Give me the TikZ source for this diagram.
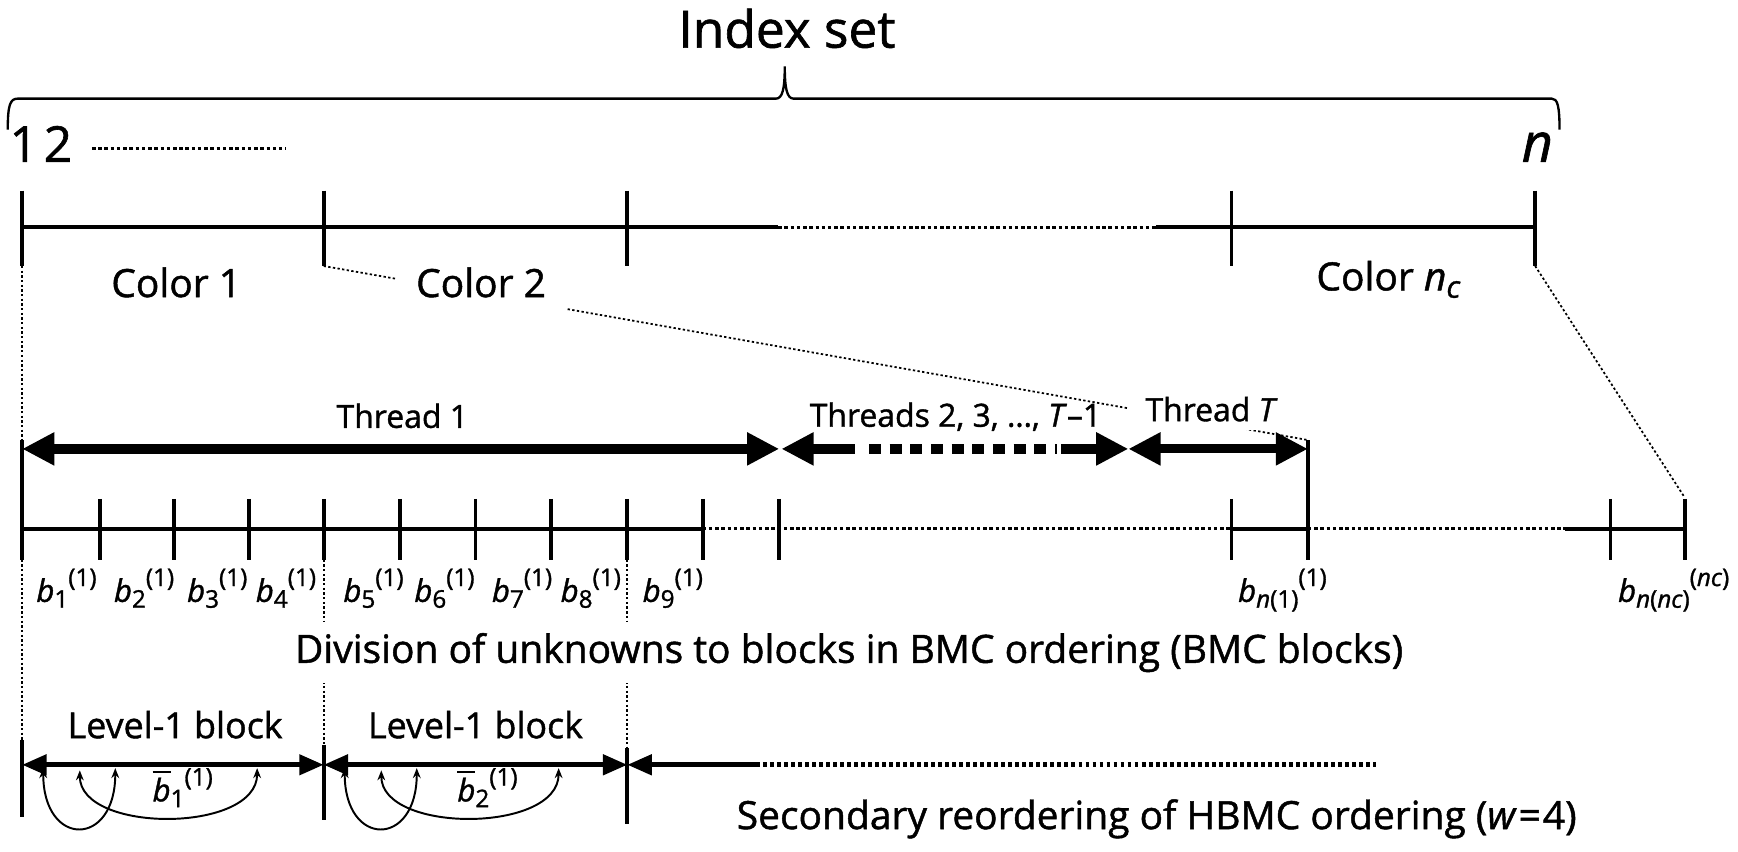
\documentclass[tikz,border=0pt]{standalone}
\usepackage{fontspec}
\usepackage{graphicx}
\setmainfont{Open Sans}[UprightFeatures={FakeBold=1.2},ItalicFeatures={FakeBold=1.2}]
\usetikzlibrary{arrows.meta}
\newcommand\lo[1]{\raisebox{-0.35ex}{\scalebox{0.78}{#1}}}
\newcommand\hi[1]{\raisebox{0.95ex}{\scalebox{0.78}{#1}}}
\newcommand\fs[1]{\fontsize{#1}{#1}\selectfont}
\begin{document}
\begin{tikzpicture}[x=0.1mm,y=-0.1mm,
  ax/.style={line width=1.0pt},
  axdot/.style={line width=0.8pt, dash pattern=on 0.9pt off 0.7pt},
  tk/.style={line width=1.0pt},
  fine/.style={line width=0.45pt, dash pattern=on 0.6pt off 0.6pt},
  thr/.style={line width=2.6pt},
  thrT/.style={line width=2.3pt},
  lv/.style={line width=1.2pt},
  lvdot/.style={line width=1.2pt, dash pattern=on 1pt off 0.8pt},
  arcl/.style={line width=0.5pt, {Stealth[length=0.9mm,width=0.7mm]}-{Stealth[length=0.9mm,width=0.7mm]}},
  bigboth/.style={{Triangle[length=2.9mm,width=2.8mm]}-{Triangle[length=2.9mm,width=2.8mm]}},
  bigleft/.style={{Triangle[length=2.9mm,width=2.8mm]}-},
  bigright/.style={-{Triangle[length=2.9mm,width=2.8mm]}},
  smboth/.style={{Triangle[length=2.2mm,width=1.8mm]}-{Triangle[length=2.2mm,width=1.8mm]}},
  smleft/.style={{Triangle[length=2.2mm,width=1.8mm]}-},
  lab/.style={inner sep=0pt, anchor=base},
  labw/.style={inner sep=0pt, anchor=base west},
  blab/.style={inner sep=0pt, anchor=base, font=\fs{8}},
  cover/.style={fill=white, inner xsep=1.8mm, inner ysep=1.1mm, anchor=base}
]
\useasboundingbox (0,0) rectangle (1568,768);

% ---------- brace and index set ----------
\draw[line width=0.6pt] (7,117) .. controls (7,95) and (9,89) .. (16,89) -- (700,89)
  .. controls (706,89) and (708,80) .. (708,60)
  .. controls (708,80) and (710,89) .. (716,89) -- (1400,89)
  .. controls (1405,89) and (1407,95) .. (1407,117);
\node[lab, font=\fs{13.2}] (idx) at (710,43) {Index set};
\node[labw, font=\fs{12.7}] (one) at (8,146) {1\hspace{0.12em}2};
\coordinate (d12a) at (83,134);
\coordinate (d12b) at (258,134);
\draw[axdot, line width=0.7pt] (d12a) -- (d12b);
\node[lab, font=\fs{13.8}] (nn) at (1387,146) {\textit{n}};

% ---------- colour axis ----------
\coordinate (c0) at (20,205);
\coordinate (c1) at (292,205);
\coordinate (c2) at (566,205);
\coordinate (cd1) at (702,205);
\coordinate (cd2) at (1043,205);
\coordinate (c3) at (1111,205);
\coordinate (c4) at (1385,205);
\draw[ax] (c0) -- (cd1);
\draw[axdot] (cd1) -- (cd2);
\draw[ax] (cd2) -- (c4);
\foreach \p in {c0,c1,c2,c3,c4} \draw[tk] (\p) ++(0,-33) -- ++(0,68);
\coordinate (c0b) at (20,240);
\coordinate (c1b) at (292,240);
\coordinate (c4b) at (1385,240);

% ---------- thread row coordinates ----------
\coordinate (thA) at (20,405);
\coordinate (thB) at (703,405);
\coordinate (thC) at (705,405);
\coordinate (thC2) at (771,405);
\coordinate (thDa) at (784,405);
\coordinate (thDb) at (954,405);
\coordinate (thDc) at (957,405);
\coordinate (thD) at (1018,405);
\coordinate (thE) at (1180,405);
\coordinate (thEt) at (1180,397);
\coordinate (thAt) at (20,397);

% ---------- block row coordinates ----------
\foreach \x [count=\i] in {20,90,157,225,292,361,429,497,566,634,703,1111,1180,1453,1520}
  \coordinate (r\i) at (\x,477);
\coordinate (rdot) at (1412,477);

% ---------- dotted connectors ----------
\draw[fine] (c0b) -- (thAt);
\draw[fine] (c1b) -- (thEt);
\draw[fine] (c4b) -- ([yshift=0.1mm]r15 |- 0,450);
\draw[fine] (20,505) -- (20,670);
\draw[fine] (292,505) -- (292,672);
\draw[fine] (566,505) -- (566,675);

% ---------- colour labels ----------
\node[lab, font=\fs{10}] (col1) at (159,268) {Color 1};
\node[cover, font=\fs{10}] (col2) at (434,268) {Color 2};
\node[labw, font=\fs{10}] (colc) at (1187,262) {Color \textit{n}\lo{\textit{c}}};

% ---------- thread labels ----------
\node[lab, font=\fs{8.2}] (t1) at (363,386) {Thread 1};
\node[lab, font=\fs{8.2}] (t2) at (862,385) {Threads 2, 3, \dots, \textit{T}–1};
\node[cover, font=\fs{8.2}, inner ysep=0.8mm, inner xsep=1.5mm] (tT) at (1093,380) {Thread \textit{T}};

% ---------- thread arrows ----------
\draw[thr, bigboth] (thA) -- (thB);
\draw[thr, bigleft] (thC) -- (thC2);
\draw[thr, dash pattern=on 3.1pt off 2.2pt] (thDa) -- (thDb);
\draw[thr, bigright] (thDc) -- (thD);
\draw[thrT, bigboth] (thD) -- (thE);

% ---------- block row ----------
\draw[ax] (r1) -- (r10);
\draw[axdot] (r10) -- (r12);
\draw[ax] (r12) -- (r13);
\draw[axdot] (r13) -- (rdot);
\draw[ax] (rdot) -- (r15);
\foreach \i in {2,...,12,14,15} \draw[tk] (r\i) ++(0,-27) -- ++(0,55);
\draw[tk] (thAt) -- (20,505);
\draw[tk] (thEt) -- (1180,505);

\node[blab] (b1) at (60,543) {\textit{b}\lo{1}\hi{(1)}};
\node[blab] (b2) at (130,543) {\textit{b}\lo{2}\hi{(1)}};
\node[blab] (b3) at (196,543) {\textit{b}\lo{3}\hi{(1)}};
\node[blab] (b4) at (258,543) {\textit{b}\lo{4}\hi{(1)}};
\node[blab] (b5) at (337,543) {\textit{b}\lo{5}\hi{(1)}};
\node[blab] (b6) at (401,543) {\textit{b}\lo{6}\hi{(1)}};
\node[blab] (b7) at (471,543) {\textit{b}\lo{7}\hi{(1)}};
\node[blab] (b8) at (533,543) {\textit{b}\lo{8}\hi{(1)}};
\node[blab] (b9) at (607,543) {\textit{b}\lo{9}\hi{(1)}};
\node[blab] (bn1) at (1157,543) {\textit{b}\lo{\textit{n}(1)}\hi{(1)}};
\node[blab] (bnc) at (1510,543) {\textit{b}\lo{\textit{n}(\textit{nc})}\hi{(\textit{nc})}};

\node[cover, font=\fs{10}, inner ysep=1mm, inner xsep=1mm] (div) at (766,598)
  {Division of unknowns to blocks in BMC ordering (BMC blocks)};

% ---------- level-1 row ----------
\coordinate (l0) at (20,690);
\coordinate (l1) at (292,690);
\coordinate (l2) at (566,690);
\coordinate (l3) at (682,690);
\coordinate (l4) at (1241,690);
\node[lab, font=\fs{9.2}] (lb1) at (158,666) {Level-1 block};
\node[lab, font=\fs{9.2}] (lb2) at (429,666) {Level-1 block};
\draw[lv, smboth] (l0) -- (l1);
\draw[lv, smboth] (l1) -- (l2);
\draw[lv, smleft] (l2) -- (l3);
\draw[lvdot] (l3) -- (l4);
\draw[tk] (l0) ++(0,-22) -- ++(0,69);
\draw[tk] (l1) ++(0,-18) -- ++(0,68);
\draw[tk] (l2) ++(0,-15) -- ++(0,68);

\foreach \s in {0,272} {
  \coordinate (aa\s) at (39+\s,693);
  \coordinate (ab\s) at (104+\s,693);
  \coordinate (ac\s) at (72+\s,695);
  \coordinate (ad\s) at (232+\s,693);
  \draw[arcl] (aa\s) .. controls (39+\s,765) and (104+\s,765) .. (ab\s);
  \draw[arcl] (ac\s) .. controls (72+\s,752) and (232+\s,752) .. (ad\s);
}
\node[labw, font=\fs{8}] (bb1) at (137,723) {$\overline{\mbox{\textit{b}}}$\lo{1}\hi{(1)}};
\node[labw, font=\fs{8}] (bb2) at (412,723) {$\overline{\mbox{\textit{b}}}$\lo{2}\hi{(1)}};

\node[labw, font=\fs{10}] (sec) at (664,748) {Secondary reordering of HBMC ordering (\textit{w}\kern0.05em=\kern0.05em4)};
\end{tikzpicture}
\end{document}
